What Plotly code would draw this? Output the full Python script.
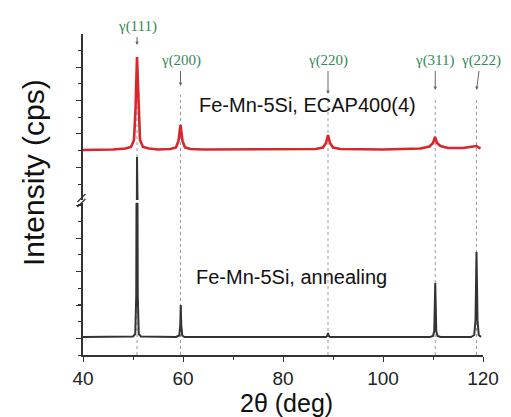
import plotly.graph_objects as go

# ---------------- data ----------------
# Fe-Mn-5Si, ECAP400(4)  (offset curve, upper panel units)
ecap_x = [40, 46, 48.5, 49.6, 50.2, 50.5, 50.8, 51.1, 51.4, 52.0, 53.2, 55, 57.5, 58.6, 59.1, 59.5,
          59.9, 60.4, 61.5, 64, 80, 86.5, 88.0, 88.6, 89.0, 89.4, 90.0, 91.5, 100, 107.5, 109.3,
          110.0, 110.4, 110.8, 111.5, 113, 116, 117.8, 118.3, 118.7, 119.1, 119.5]
ecap_y = [350, 350.5, 351.5, 353, 360, 390, 443, 390, 360, 353, 351.5, 350.5, 351, 352.5, 359, 375,
          359, 352.5, 351, 350.5, 350.5, 351, 352.5, 357, 365, 357, 352.5, 351, 350.5, 351.5, 353.5,
          357, 363, 357, 354, 352, 352, 353, 353.5, 354, 352.5, 351.5]

# Fe-Mn-5Si, annealing (lower panel units)
anneal_x = [40, 48, 50.0, 50.45, 50.65, 50.8, 50.95, 51.15, 51.6, 58.6, 59.25, 59.45, 59.55, 59.65,
            59.85, 60.3, 88.6, 88.85, 89.0, 89.15, 89.4, 109.4, 110.0, 110.25, 110.45, 110.65, 110.9,
            111.5, 117.6, 118.25, 118.5, 118.7, 118.9, 119.15, 119.6]
anneal_y = [18, 18, 18.5, 21, 60, 343, 60, 21, 18.5, 18, 19.5, 30, 50, 30, 19.5, 18, 18, 19, 22, 19,
            18, 18, 19, 24, 72, 24, 19, 18, 18, 20, 35, 103, 35, 20, 18]

# reflections
peak_labels = ["γ(111)", "γ(200)", "γ(220)", "γ(311)", "γ(222)"]
peak_pos = [50.8, 59.5, 89.0, 110.45, 118.7]

# axis ticks
x_ticks = [40, 60, 80, 100, 120]

# ---------------- layout geometry ----------------
PLOT_T, PLOT_B = 34, 355          # pixel rows of the plotting area
H = PLOT_B - PLOT_T

def py(p):                         # pixel row -> paper y
    return (PLOT_B - p) / H

RED = "#d8262c"
BLACK = "#333333"
GREEN = "#2f8a55"
AX = "#333333"
SANS = "Liberation Sans, Arial, sans-serif"
SERIF = "Liberation Serif, Times New Roman, serif"

fig = go.Figure()

# annealing curve on both panels (clipped by each)
for ya in ("y", "y2"):
    fig.add_trace(go.Scatter(x=anneal_x, y=anneal_y, mode="lines", xaxis="x", yaxis=ya,
                             line=dict(color=BLACK, width=2), hoverinfo="skip", showlegend=False))
fig.add_trace(go.Scatter(x=ecap_x, y=ecap_y, mode="lines", xaxis="x", yaxis="y2",
                         line=dict(color=RED, width=2.6), hoverinfo="skip", showlegend=False))

# dashed guide lines and labelled arrows
label_row = [26, 60, 60, 60, 60]
head_row = [45, 86, 94, 90, 90]
label_dx = [0, 0, 0, 0, 4]
guide_top = [58, 95, 100, 100, 100]
shapes = []
annotations = []
for lab, xp, lr, hr, dx, gt in zip(peak_labels, peak_pos, label_row, head_row, label_dx, guide_top):
    shapes.append(dict(type="line", xref="x", yref="paper", x0=xp, x1=xp, y0=0, y1=py(gt),
                       line=dict(color="#9a9a9a", width=1, dash="dot"), layer="below"))
    annotations.append(dict(x=xp, y=py(hr), xref="x", yref="paper", text=lab, showarrow=True,
                            ax=dx, ay=lr - hr, arrowhead=2, arrowsize=0.7, arrowwidth=1,
                            arrowcolor="#666666", standoff=0, startstandoff=1,
                            font=dict(family=SERIF, size=15, color=GREEN)))

# sample texts
annotations.append(dict(x=84.8, y=py(105), xref="x", yref="paper", text="Fe-Mn-5Si, ECAP400(4)",
                        xanchor="center", yanchor="middle",
                        showarrow=False, font=dict(family=SANS, size=20, color="#111111")))
annotations.append(dict(x=81.6, y=py(277), xref="x", yref="paper", text="Fe-Mn-5Si, annealing",
                        xanchor="center", yanchor="middle",
                        showarrow=False, font=dict(family=SANS, size=20, color="#111111")))

# axis titles
annotations.append(dict(x=(33 - 83) / 400, y=py(173), xref="paper", yref="paper",
                        xanchor="center", yanchor="middle",
                        text="Intensity (cps)", textangle=-90, showarrow=False,
                        font=dict(family=SANS, size=30, color="#111111")))
annotations.append(dict(x=(286 - 83) / 400, y=py(403), xref="paper", yref="paper",
                        xanchor="center", yanchor="middle",
                        text="2θ (deg)", showarrow=False,
                        font=dict(family=SANS, size=25, color="#111111")))

# axis-break marks
for off in (0, 5):
    shapes.append(dict(type="line", xref="paper", yref="paper",
                       x0=-0.014, x1=0.006, y0=py(207 - off), y1=py(199 - off),
                       line=dict(color=AX, width=1.3)))

fig.update_layout(
    width=511, height=417,
    margin=dict(l=83, r=28, t=PLOT_T, b=417 - PLOT_B),
    paper_bgcolor="white", plot_bgcolor="white",
    showlegend=False,
    shapes=shapes, annotations=annotations,
    xaxis=dict(range=[40, 120], anchor="y", domain=[0, 1], showgrid=False, zeroline=False,
               showline=True, linecolor=AX, linewidth=1.5,
               tickmode="array", tickvals=x_ticks, ticktext=[str(t) for t in x_ticks],
               ticks="outside", ticklen=5, tickwidth=1.3, tickcolor=AX,
               minor=dict(dtick=10, tick0=40, ticks="outside", ticklen=3, tickcolor=AX),
               tickfont=dict(family=SANS, size=19, color="#222222")),
    yaxis=dict(range=[0, 152], domain=[0, py(203)], anchor="x", showgrid=False, zeroline=False,
               showline=True, linecolor=AX, linewidth=1.5, showticklabels=False,
               tick0=16.67, dtick=33.33, ticks="outside", ticklen=5, tickcolor=AX,
               minor=dict(tick0=0, dtick=16.67, ticks="outside", ticklen=3, tickcolor=AX)),
    yaxis2=dict(range=[300, 466], domain=[py(200), 1], anchor="x", showgrid=False, zeroline=False,
                showline=True, linecolor=AX, linewidth=1.5, showticklabels=False,
                tick0=332.7, dtick=33.33, ticks="outside", ticklen=5, tickcolor=AX,
                minor=dict(tick0=316, dtick=16.67, ticks="outside", ticklen=3, tickcolor=AX)),
)

fig.write_html("out.html", config={"displayModeBar": False},
               post_script="document.body.style.margin='0';document.body.style.overflow='hidden';")
